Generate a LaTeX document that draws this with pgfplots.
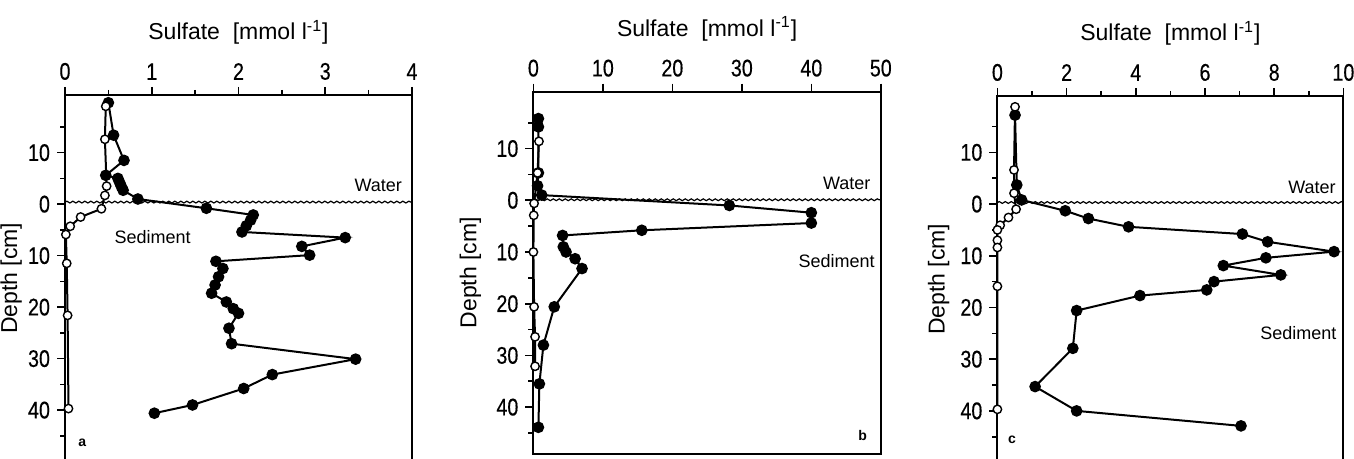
\documentclass[border=0pt]{standalone}
\usepackage{fontspec}
\setmainfont{Liberation Sans}
\newfontfamily\mytickfam[FakeStretch=0.82,FakeBold=0.4]{Liberation Sans}
\usepackage{pgfplots}
\pgfplotsset{compat=1.18}
\usetikzlibrary{decorations.pathmorphing}
\newcommand\mytickfont{\mytickfam\fontsize{12}{13}\selectfont}
\newcommand\mylabfont{\fontsize{11.5}{13}\selectfont}
\newcommand\myannfont{\fontsize{9}{10}\selectfont}
\tikzset{surface/.style={line width=0.6pt, decorate, decoration={snake, amplitude=0.45pt, segment length=3pt}}}
\pgfplotsset{
  panel/.style={
    scale only axis,
    y dir=reverse,
    clip=false,
    xtick pos=upper, xticklabel pos=upper,
    ytick pos=lower, yticklabel pos=lower,
    tick align=outside,
    major tick length=4pt, minor tick length=2.5pt,
    ytick={-10,0,10,20,30,40},
    yticklabels={10,0,10,20,30,40},
    minor ytick={-15,-5,5,15,25,35,45},
    tick label style={font=\mytickfont},
    /pgf/number format/assume math mode=true,
    xlabel={Sulfate\ \ [mmol l\textsuperscript{-1}]},
    ylabel={Depth [cm]},
    label style={font=\mylabfont},
    xlabel style={at={(axis description cs:0.5,1)}, anchor=base, yshift=27.5pt},
    axis line style={line width=1pt},
    every tick/.style={black, line width=0.8pt},
  },
  filled/.style={black, line width=1pt, mark=*, mark size=2.4pt, mark options={fill=black, solid}},
  open/.style={black, line width=1pt, mark=*, mark size=2.1pt, mark options={fill=white, draw=black, line width=0.7pt, solid}},
}
\begin{document}
\begin{tikzpicture}
\useasboundingbox (0,0) rectangle (677pt,229.5pt);
% ---------------- panel a
\begin{axis}[panel, at={(32.5pt,182pt)}, anchor=north west,
  width=173.5pt, height=183.3pt,
  xmin=0, xmax=4, ymin=-21.2, ymax=50,
  xtick={0,1,2,3,4}, minor x tick num=1,
  ylabel style={at={(axis description cs:-0.155,0.5)}, anchor=center}]
\draw[surface] (axis cs:0,-0.4) -- (axis cs:4,-0.4);
\addplot[filled] coordinates {
(0.50,-19.7) (0.56,-13.4) (0.68,-8.5) (0.47,-5.6) (0.61,-5.0) (0.63,-4.2)
(0.65,-3.4) (0.67,-2.7) (0.84,-1.0) (1.63,0.8) (2.17,2.1) (2.14,3.1)
(2.09,4.2) (2.04,5.4) (3.23,6.5) (2.73,8.2) (2.82,9.9) (1.74,11.1)
(1.82,12.5) (1.77,14.1) (1.73,15.7) (1.69,17.3) (1.86,19.0) (1.94,20.3)
(2.00,21.2) (1.89,24.1) (1.92,27.1) (3.35,30.1) (2.39,33.1) (2.06,35.8)
(1.47,39.0) (1.03,40.6)};
\addplot[open] coordinates {
(0.47,-19.0) (0.46,-12.6) (0.48,-3.5) (0.46,-1.7) (0.42,0.9) (0.18,2.5)
(0.06,4.3) (0.01,5.9) (0.02,11.5) (0.03,21.6) (0.04,39.7)};
\node[font=\myannfont] at (axis cs:3.61,-3.7) {Water};
\node[font=\myannfont] at (axis cs:1.01,6.4) {Sediment};
\node[font=\fontsize{7}{8}\selectfont\bfseries] at (axis cs:0.2,46.4) {a};
\end{axis}
% ---------------- panel b
\begin{axis}[panel, at={(266.7pt,183.65pt)}, anchor=north west,
  width=173.7pt, height=181pt,
  xmin=0, xmax=50, ymin=-21, ymax=49,
  xtick={0,10,20,30,40,50},
  ylabel style={at={(axis description cs:-0.181,0.5)}, anchor=center}]
\draw[surface] (axis cs:0,-0.1) -- (axis cs:50,-0.1);
\addplot[filled] coordinates {
(0.72,-15.8) (0.72,-14.2) (0.72,-5.3) (0.6,-2.8) (1.2,-1.0) (28.2,1.0)
(40.0,2.4) (40.0,4.4) (15.6,5.8) (4.2,6.8) (4.3,9.0) (4.7,10.0)
(6.0,11.3) (7.0,13.2) (3.0,20.6) (1.44,28.0) (0.86,35.5) (0.72,43.9)};
\addplot[open] coordinates {
(0.8,-11.4) (0.6,-5.3) (0.1,0.6) (0.05,2.9) (0,10.0) (0.1,20.6)
(0.24,26.4) (0.24,32.1)};
\node[font=\myannfont] at (axis cs:45.1,-3.2) {Water};
\node[font=\myannfont] at (axis cs:43.65,11.7) {Sediment};
\node[font=\fontsize{7}{8}\selectfont\bfseries] at (axis cs:47.4,45.5) {b};
\end{axis}
% ---------------- panel c
\begin{axis}[panel, at={(498.7pt,181.5pt)}, anchor=north west,
  width=173pt, height=183.3pt,
  xmin=0, xmax=10, ymin=-20.9, ymax=50,
  xtick={0,2,4,6,8,10}, minor x tick num=1,
  ylabel style={at={(axis description cs:-0.17,0.5)}, anchor=center}]
\draw[surface] (axis cs:0,-0.3) -- (axis cs:10,-0.3);
\addplot[filled] coordinates {
(0.51,-17.2) (0.56,-3.7) (0.70,-0.8) (1.96,1.3) (2.63,2.8) (3.79,4.4)
(7.08,5.8) (7.81,7.3) (9.73,9.2) (7.76,10.4) (6.53,11.9) (8.19,13.7)
(6.26,15.0) (6.05,16.6) (4.12,17.7) (2.29,20.6) (2.18,27.9) (1.09,35.3)
(2.29,40.0) (7.04,42.9)};
\addplot[open] coordinates {
(0.51,-18.8) (0.48,-6.6) (0.48,-2.1) (0.54,1.0) (0.32,2.6) (0.08,4.1)
(0.00,5.0) (0.00,7.0) (0.00,8.4) (0.00,15.9) (0.00,39.7)};
\node[font=\myannfont] at (axis cs:9.09,-3.2) {Water};
\node[font=\myannfont] at (axis cs:8.7,25.0) {Sediment};
\node[font=\fontsize{7}{8}\selectfont\bfseries] at (axis cs:0.42,45.5) {c};
\end{axis}
\end{tikzpicture}
\end{document}
